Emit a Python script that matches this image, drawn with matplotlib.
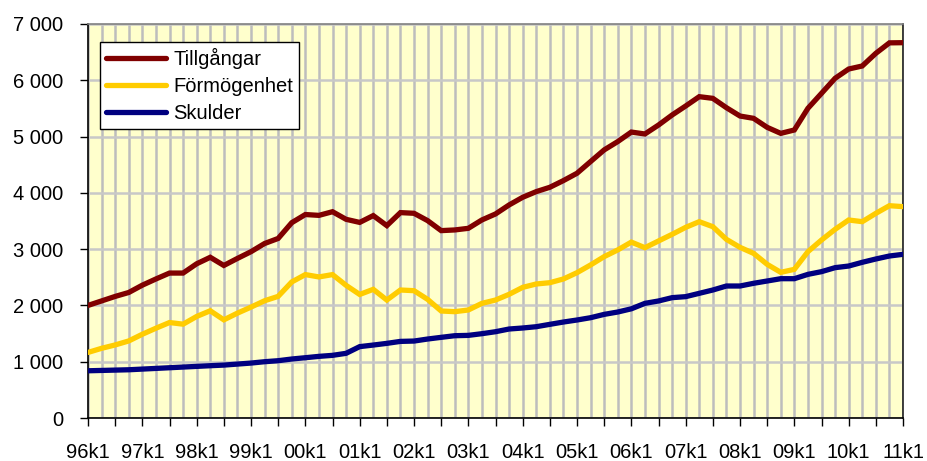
import matplotlib
matplotlib.use("Agg")
import matplotlib.pyplot as plt
from matplotlib.ticker import FixedLocator, FuncFormatter, MultipleLocator

plt.rcParams['font.family'] = ['Liberation Sans', 'DejaVu Sans']

years = ['96', '97', '98', '99', '00', '01', '02', '03', '04', '05',
         '06', '07', '08', '09', '10', '11']
quarters = [f"{y}k{q}" for y in years[:-1] for q in (1, 2, 3, 4)] + [years[-1] + 'k1']

tillgangar = [2000, 2080, 2160, 2230, 2360, 2470, 2575, 2575, 2740, 2855,
              2710, 2835, 2955, 3100, 3190, 3470, 3615, 3600, 3665, 3530,
              3475, 3596, 3418, 3649, 3637, 3507, 3329, 3341, 3370, 3519,
              3625, 3785, 3921, 4022, 4099, 4218, 4348, 4556, 4763, 4911,
              5080, 5046, 5205, 5383, 5543, 5709, 5679, 5513, 5365, 5324,
              5164, 5057, 5117, 5502, 5768, 6035, 6200, 6254, 6479, 6665,
              6668]
formogenhet = [1165, 1238, 1298, 1369, 1488, 1595, 1696, 1667, 1804, 1905,
               1744, 1863, 1970, 2083, 2161, 2417, 2548, 2506, 2548, 2357,
               2195, 2286, 2096, 2274, 2262, 2108, 1901, 1889, 1919, 2037,
               2096, 2197, 2321, 2381, 2404, 2470, 2582, 2719, 2867, 2986,
               3125, 3026, 3145, 3263, 3387, 3488, 3399, 3174, 3032, 2925,
               2730, 2588, 2641, 2955, 3162, 3352, 3518, 3488, 3636, 3772,
               3755]
skulder = [839, 845, 851, 857, 869, 881, 893, 905, 917, 929,
           940, 958, 976, 1000, 1018, 1048, 1071, 1095, 1113, 1149,
           1268, 1296, 1326, 1361, 1367, 1403, 1433, 1462, 1468, 1498,
           1533, 1581, 1599, 1622, 1664, 1705, 1741, 1782, 1841, 1883,
           1940, 2037, 2079, 2138, 2156, 2215, 2274, 2345, 2345, 2393,
           2434, 2475, 2475, 2552, 2600, 2671, 2700, 2766, 2825, 2878,
           2908]
series_names = ['Tillgångar', 'Förmögenhet', 'Skulder']
series_colors = ['#800000', '#FFCC00', '#000080']
ytick_vals = [0, 1000, 2000, 3000, 4000, 5000, 6000, 7000]
ytick_labels = ['0', '1 000', '2 000', '3 000', '4 000', '5 000', '6 000', '7 000']

fig = plt.figure(figsize=(9.27, 4.61), dpi=100)
ax = fig.add_axes([88 / 927, 1 - 418 / 461, 815 / 927, 394 / 461])
ax.set_facecolor('#FFFFCC')

x = list(range(len(quarters)))
for vals, name, col in zip([tillgangar, formogenhet, skulder], series_names, series_colors):
    ax.plot(x, vals, color=col, lw=3.8, label=name, solid_joinstyle='miter',
            solid_capstyle='round', zorder=3)

ax.set_xlim(0, len(quarters) - 1)
ax.set_ylim(0, 7000)

ax.yaxis.set_major_locator(FixedLocator(ytick_vals))
ax.set_yticklabels(ytick_labels)

ax.xaxis.set_major_locator(MultipleLocator(2))
ax.xaxis.set_minor_locator(MultipleLocator(1))
ax.xaxis.set_major_formatter(FuncFormatter(
    lambda v, p: quarters[int(round(v))] if int(round(v)) % 4 == 0 and 0 <= int(round(v)) < len(quarters) else ''))

ax.grid(axis='x', which='both', color='#BDBDBD', lw=1.8, zorder=1)
ax.grid(axis='y', which='major', color='#C8C8C8', lw=1.8, zorder=1)
ax.set_axisbelow(True)

ax.tick_params(axis='x', which='major', direction='out', length=6, width=1, pad=12, labelsize=14.5)
ax.tick_params(axis='x', which='minor', length=0)
ax.tick_params(axis='y', direction='out', length=6, width=1, pad=12, labelsize=14.5)

for s in ['left', 'bottom']:
    ax.spines[s].set_color('black')
    ax.spines[s].set_linewidth(1.2)
ax.spines['top'].set_color('#808080')
ax.spines['top'].set_linewidth(1.2)
ax.spines['right'].set_color('#202020')
ax.spines['right'].set_linewidth(1.2)

leg = ax.legend(loc='upper left', bbox_to_anchor=(0.0147, 0.955), fontsize=14.5,
                frameon=True, fancybox=False, framealpha=1, edgecolor='black',
                handlelength=3.0, handletextpad=0.35, labelspacing=0.4,
                borderpad=0.3, borderaxespad=0)
leg.get_frame().set_linewidth(1.0)

fig.savefig('out.png', dpi=100)
